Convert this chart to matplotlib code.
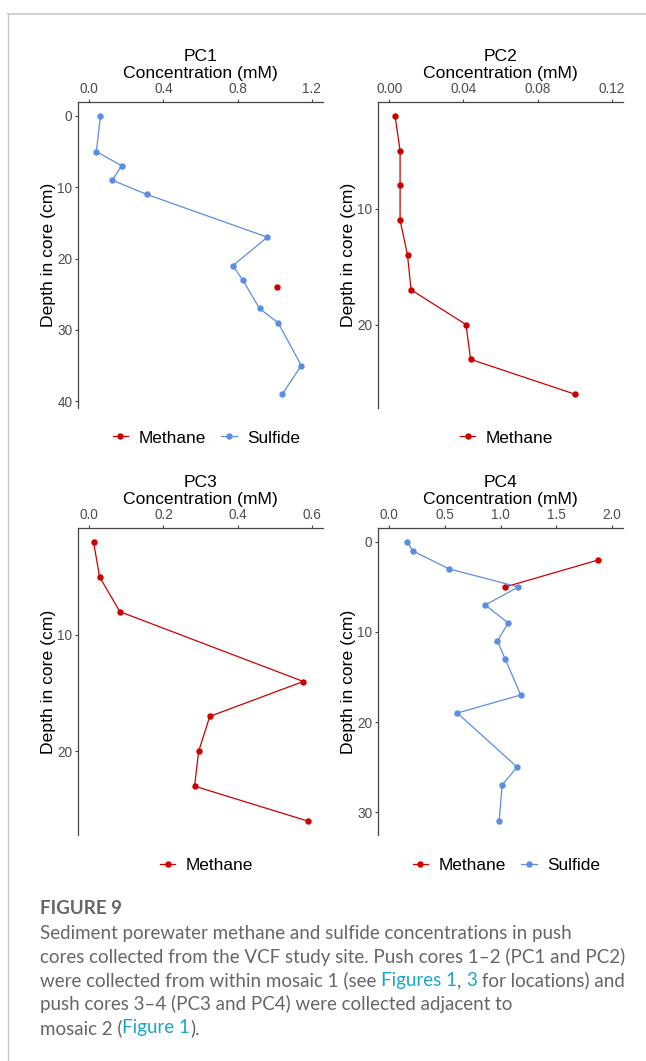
import matplotlib
matplotlib.use('Agg')
import matplotlib.pyplot as plt
from matplotlib.lines import Line2D

plt.rcParams['font.family'] = ['Liberation Sans', 'DejaVu Sans']

W, H = 646, 1061
METHANE = '#cc0000'
SULFIDE = '#5b8de3'
TICK_GREY = '#4d4d4d'

# concentrations (mM) vs depth in core (cm)
pc1_sulfide_depth = [0, 5, 7, 9, 11, 17, 21, 23, 27, 29, 35, 39]
pc1_sulfide_conc = [0.061, 0.039, 0.176, 0.124, 0.310, 0.960, 0.774, 0.828, 0.918, 1.018, 1.143, 1.041]
pc1_methane_depth = [24]
pc1_methane_conc = [1.011]

pc2_methane_depth = [2, 5, 8, 11, 14, 17, 20, 23, 26]
pc2_methane_conc = [0.0032, 0.0059, 0.0059, 0.0059, 0.0099, 0.0118, 0.0414, 0.0439, 0.0999]

pc3_methane_depth = [2, 5, 8, 14, 17, 20, 23, 26]
pc3_methane_conc = [0.012, 0.028, 0.083, 0.577, 0.325, 0.295, 0.284, 0.589]

pc4_sulfide_depth = [0, 1, 3, 5, 7, 9, 11, 13, 17, 19, 25, 27, 31]
pc4_sulfide_conc = [0.164, 0.212, 0.540, 1.161, 0.863, 1.069, 0.973, 1.042, 1.182, 0.612, 1.149, 1.015, 0.988]
pc4_methane_depth = [2, 5]
pc4_methane_conc = [1.878, 1.042]

fig = plt.figure(figsize=(W / 100, H / 100), dpi=100)


def px_axes(left, top, right, bottom):
    return fig.add_axes([left / W, 1 - bottom / H, (right - left) / W, (bottom - top) / H])


def panel(ax, name, series, xlim, xticks, ylim, yticks):
    for depth, conc, col, lab in series:
        ax.plot(conc, depth, '-o', color=col, lw=0.9, ms=3.6, label=lab)
    ax.set_xlim(*xlim)
    ax.set_ylim(*ylim)
    ax.set_xticks(xticks)
    ax.set_yticks(yticks)
    ax.xaxis.tick_top()
    for s in ['right', 'bottom']:
        ax.spines[s].set_visible(False)
    for s in ['left', 'top']:
        ax.spines[s].set_color('#444444')
        ax.spines[s].set_linewidth(0.9)
    ax.tick_params(length=2.0, width=0.8, color='#444444', labelcolor=TICK_GREY,
                   labelsize=9.8, pad=2.0)
    ax.annotate(name, xy=(0.5, 1), xycoords='axes fraction', xytext=(0, 33),
                textcoords='offset points', ha='center', va='center', fontsize=12.6)
    ax.annotate('Concentration (mM)', xy=(0.5, 1), xycoords='axes fraction',
                xytext=(0, 20.5), textcoords='offset points', ha='center', va='center',
                fontsize=12.6)
    ax.annotate('Depth in core (cm)', xy=(0, 0.5), xycoords='axes fraction',
                xytext=(-21.5, 0), textcoords='offset points', ha='center', va='center',
                rotation=90, fontsize=12.6)
    ax.legend(loc='center', bbox_to_anchor=(0.5 + 6 / 245, -30 / 306), ncol=2,
              frameon=False, fontsize=12.4, handlelength=0.9, handletextpad=0.6,
              columnspacing=0.9, borderaxespad=0)


ax1 = px_axes(78, 102, 323, 408)
panel(ax1, 'PC1',
      [(pc1_methane_depth, pc1_methane_conc, METHANE, 'Methane'),
       (pc1_sulfide_depth, pc1_sulfide_conc, SULFIDE, 'Sulfide')],
      (-0.06, 1.26), [0, 0.4, 0.8, 1.2], (40.95, -1.95), [0, 10, 20, 30, 40])
ax1.set_xticklabels(['0.0', '0.4', '0.8', '1.2'])

ax2 = px_axes(378, 102, 623, 408)
panel(ax2, 'PC2',
      [(pc2_methane_depth, pc2_methane_conc, METHANE, 'Methane')],
      (-0.006, 0.126), [0, 0.04, 0.08, 0.12], (27.2, 0.8), [10, 20])
ax2.set_xticklabels(['0.00', '0.04', '0.08', '0.12'])

ax3 = px_axes(78, 528, 323, 835)
panel(ax3, 'PC3',
      [(pc3_methane_depth, pc3_methane_conc, METHANE, 'Methane')],
      (-0.03, 0.63), [0, 0.2, 0.4, 0.6], (27.2, 0.8), [10, 20])
ax3.set_xticklabels(['0.0', '0.2', '0.4', '0.6'])

ax4 = px_axes(378, 528, 623, 835)
panel(ax4, 'PC4',
      [(pc4_methane_depth, pc4_methane_conc, METHANE, 'Methane'),
       (pc4_sulfide_depth, pc4_sulfide_conc, SULFIDE, 'Sulfide')],
      (-0.1, 2.1), [0, 0.5, 1.0, 1.5, 2.0], (32.55, -1.55), [0, 10, 20, 30])
ax4.set_xticklabels(['0.0', '0.5', '1.0', '1.5', '2.0'])

# page frame
fig.add_artist(Line2D([8 / W, 1], [1 - 14 / H] * 2, transform=fig.transFigure,
                      color='#c8c8c8', lw=1.2))
fig.add_artist(Line2D([8 / W, 8 / W], [1 - 14 / H, 0], transform=fig.transFigure,
                      color='#c8c8c8', lw=1.0))

# caption
CAP = '#666666'
LINK = '#1ba6c4'
fig.text(40 / W, 1 - 909 / H, 'FIGURE 9', fontsize=13.5, color='#666666',
         family='Lato', weight='bold', va='center')

caption = [
    [('Sediment porewater methane and sulfide concentrations in push', CAP)],
    [('cores collected from the VCF study site. Push cores 1\u20132 (PC1 and PC2)', CAP)],
    [('were collected from within mosaic 1 (see ', CAP), ('Figures 1', LINK), (', ', CAP),
     ('3', LINK), (' for locations) and', CAP)],
    [('push cores 3\u20134 (PC3 and PC4) were collected adjacent to', CAP)],
    [('mosaic 2 (', CAP), ('Figure 1', LINK), (').', CAP)],
]
renderer = fig.canvas.get_renderer()
y = 933
for parts in caption:
    x = 40 / W
    for txt, col in parts:
        t = fig.text(x, 1 - y / H, txt, fontsize=13.5, color=col, family='Lato', va='center')
        x += t.get_window_extent(renderer=renderer).width / W
    y += 23.7

fig.savefig('out.png', dpi=100)
